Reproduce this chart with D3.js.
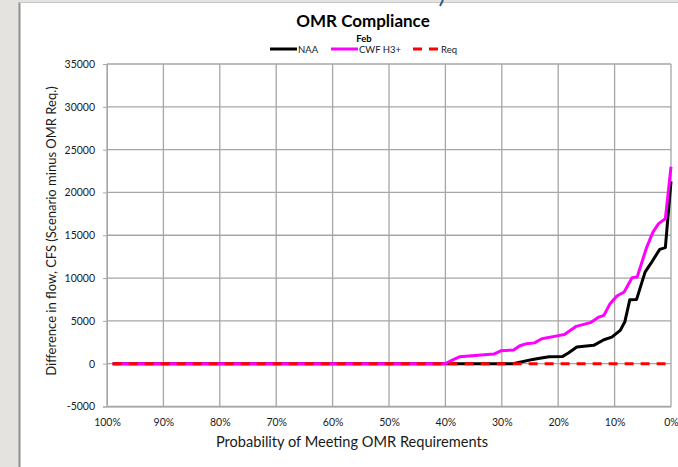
<!DOCTYPE html>
<html><head><meta charset="utf-8">
<script src="https://cdn.jsdelivr.net/npm/d3@7"></script>
<style>
html,body{margin:0;padding:0;background:#e4e3df;}
svg{display:block;}
text{font-family:Lato,"Open Sans",sans-serif;}
</style></head>
<body>
<svg id="c" width="678" height="467"></svg>
<script>
const title = "OMR Compliance";
const subtitle = "Feb";
const seriesNames = ["NAA", "CWF H3+", "Req"];
const xTicks = [100, 90, 80, 70, 60, 50, 40, 30, 20, 10, 0];
const yTicks = [-5000, 0, 5000, 10000, 15000, 20000, 25000, 30000, 35000];

const naaX = [99, 28, 26.8, 24.5, 23.8, 21.6, 19.2, 18.2, 16.7, 13.7, 11.9, 10.5, 9.0, 8.2, 7.3, 6.1, 4.6, 3.6, 2.0, 1.0, 0];
const naaY = [0, 0, 170, 500, 580, 820, 850, 1240, 1940, 2140, 2800, 3110, 3890, 4860, 7480, 7510, 10700, 11680, 13350, 13550, 21300];

const cwfX = [99, 40, 38.6, 37.5, 31.4, 30.2, 27.9, 26.8, 25.6, 24.2, 22.9, 20.2, 18.9, 16.8, 14.3, 12.8, 11.9, 10.8, 9.6, 8.3, 6.9, 6.0, 4.3, 3.2, 2.2, 1.0, 0];
const cwfY = [0, 0, 470, 800, 1120, 1500, 1600, 2100, 2340, 2430, 2920, 3250, 3400, 4360, 4790, 5440, 5640, 7010, 7900, 8370, 10050, 10120, 13620, 15370, 16360, 16940, 23000];

const reqX = [99, 0];
const reqY = [0, 0];

const svg = d3.select("#c");

// frame (slide background + white chart panel)
svg.append("rect").attr("x", 19).attr("y", 2).attr("width", 670).attr("height", 470).attr("fill", "#fff");
svg.append("line").attr("x1", 19.5).attr("x2", 19.5).attr("y1", 2).attr("y2", 467).attr("stroke", "#8f8f8f").attr("stroke-width", 2);
svg.append("line").attr("x1", 19).attr("x2", 678).attr("y1", 2.5).attr("y2", 2.5).attr("stroke", "#c8c8c8").attr("stroke-width", 1);
svg.append("line").attr("x1", 443).attr("x2", 440).attr("y1", 0).attr("y2", 6).attr("stroke", "#2e5d86").attr("stroke-width", 2);

const x = d3.scaleLinear().domain([100, 0]).range([107, 671]);
const y = d3.scaleLinear().domain([-5000, 35000]).range([406.5, 64]);

// gridlines
const g = svg.append("g");
g.selectAll(".vg").data(xTicks).join("line")
  .attr("x1", d => x(d)).attr("x2", d => x(d))
  .attr("y1", y(35000)).attr("y2", y(-5000))
  .attr("stroke", "#a6a6a6").attr("stroke-width", 1.3);
g.selectAll(".hg").data(yTicks).join("line")
  .attr("x1", x(100)).attr("x2", x(0))
  .attr("y1", d => y(d)).attr("y2", d => y(d))
  .attr("stroke", "#a6a6a6").attr("stroke-width", 1.3);

// axes
const yAxis = d3.axisLeft(y).tickValues(yTicks).tickSize(4).tickPadding(8).tickFormat(d => String(d));
const ya = svg.append("g").attr("transform", `translate(${x(100)},0)`).call(yAxis);
ya.select(".domain").attr("stroke", "#a6a6a6");
ya.selectAll(".tick line").attr("stroke", "#a6a6a6");
ya.selectAll("text").attr("font-size", "10.5px").attr("fill", "#1a1a1a").attr("font-family", "Lato");

const xa = svg.append("g").attr("transform", `translate(0,${y(-5000)})`)
  .call(d3.axisBottom(x).tickValues(xTicks).tickSize(0).tickPadding(12).tickFormat(d => d + "%"));
xa.select(".domain").attr("stroke", "#a6a6a6");
xa.selectAll("text").attr("font-size", "10.5px").attr("fill", "#1a1a1a").attr("font-family", "Lato");

// lines
const line = d3.line().x(d => x(d[0])).y(d => y(d[1]));
const naa = naaX.map((v, i) => [v, naaY[i]]);
const cwf = cwfX.map((v, i) => [v, cwfY[i]]);
const req = reqX.map((v, i) => [v, reqY[i]]);
svg.append("path").datum(naa).attr("d", line).attr("fill", "none").attr("stroke", "#000").attr("stroke-width", 3).attr("stroke-linejoin", "round");
svg.append("path").datum(cwf).attr("d", line).attr("fill", "none").attr("stroke", "#ff00ff").attr("stroke-width", 3).attr("stroke-linejoin", "round");
svg.append("path").datum(req).attr("d", line).attr("fill", "none").attr("stroke", "#ff0000").attr("stroke-width", 3).attr("stroke-dasharray", "9,7");

// titles
svg.append("text").attr("x", 363).attr("y", 27).attr("text-anchor", "middle")
  .attr("font-size", "17px").attr("font-weight", "bold").attr("fill", "#000").text(title);
svg.append("text").attr("x", 364).attr("y", 42).attr("text-anchor", "middle")
  .attr("font-size", "9.5px").attr("font-weight", "bold").attr("fill", "#000").text(subtitle);

// legend
const leg = [
  {x1: 270, x2: 297, color: "#000", dash: null},
  {x1: 331, x2: 358, color: "#ff00ff", dash: null},
  {x1: 413, x2: 440, color: "#ff0000", dash: "9,7"}
];
leg.forEach((l, i) => {
  const ln = svg.append("line").attr("x1", l.x1).attr("x2", l.x2).attr("y1", 49).attr("y2", 49)
    .attr("stroke", l.color).attr("stroke-width", 3);
  if (l.dash) ln.attr("stroke-dasharray", l.dash);
  svg.append("text").attr("x", l.x2 + 1).attr("y", 52.5).attr("font-size", "9.5px").attr("fill", "#1a1a1a").text(seriesNames[i]);
});

// axis titles
svg.append("text").attr("x", 352).attr("y", 447).attr("text-anchor", "middle")
  .attr("font-size", "14.6px").attr("fill", "#1a1a1a").text("Probability of Meeting OMR Requirements");
svg.append("text").attr("transform", "translate(56,231) rotate(-90)").attr("text-anchor", "middle")
  .attr("font-size", "13px").attr("fill", "#1a1a1a").text("Difference in flow, CFS (Scenario minus OMR Req.)");
</script>
</body></html>
